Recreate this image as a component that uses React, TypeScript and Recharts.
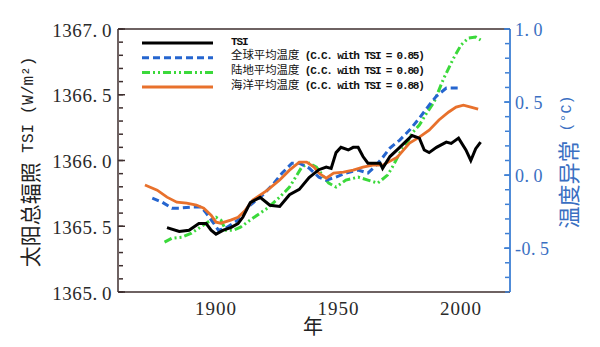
import React from 'react';
import { LineChart, Line, XAxis, YAxis, Customized } from 'recharts';

// ---- axis ticks ----
const xTicks = [1860, 1870, 1880, 1890, 1900, 1910, 1920, 1930, 1940, 1950, 1960, 1970, 1980, 1990, 2000, 2010, 2020];
const xLabelTicks = [1900, 1950, 2000];
const tsiTicks = [1365.0, 1365.1, 1365.2, 1365.3, 1365.4, 1365.5, 1365.6, 1365.7, 1365.8, 1365.9, 1366.0, 1366.1, 1366.2, 1366.3, 1366.4, 1366.5, 1366.6, 1366.7, 1366.8, 1366.9, 1367.0];
const tsiLabelTicks = [1365.0, 1365.5, 1366.0, 1366.5, 1367.0];
const tempTicks = [-0.8, -0.7, -0.6, -0.5, -0.4, -0.3, -0.2, -0.1, 0.0, 0.1, 0.2, 0.3, 0.4, 0.5, 0.6, 0.7, 0.8, 0.9, 1.0];
const tempLabelTicks = [-0.5, 0.0, 0.5, 1.0];

// ---- series ----
const tsiYears = [1880, 1885, 1889, 1893, 1896, 1898, 1900, 1903, 1906, 1909, 1911, 1914, 1918, 1922, 1926, 1930, 1934, 1938, 1942, 1945, 1947, 1949, 1951, 1954, 1956, 1958, 1960, 1962, 1964, 1967, 1968, 1971, 1975, 1980, 1983, 1985, 1987, 1990, 1994, 1996, 1999, 2002, 2004, 2006, 2008];
const tsiValues = [1365.49, 1365.46, 1365.47, 1365.52, 1365.52, 1365.47, 1365.44, 1365.47, 1365.49, 1365.52, 1365.57, 1365.68, 1365.72, 1365.66, 1365.65, 1365.74, 1365.78, 1365.87, 1365.93, 1365.95, 1365.94, 1366.06, 1366.10, 1366.08, 1366.10, 1366.10, 1366.03, 1365.98, 1365.98, 1365.98, 1365.94, 1366.03, 1366.10, 1366.19, 1366.17, 1366.08, 1366.06, 1366.10, 1366.14, 1366.13, 1366.17, 1366.08, 1366.00, 1366.09, 1366.14];

const globalYears = [1874, 1878, 1882, 1885, 1890, 1894, 1896, 1899, 1901, 1904, 1909, 1914, 1919, 1923, 1927, 1931, 1934, 1938, 1942, 1945, 1949, 1953, 1958, 1962, 1965, 1968, 1971, 1975, 1979, 1983, 1987, 1990, 1994, 2000];
const globalValues = [-0.158, -0.185, -0.226, -0.226, -0.219, -0.219, -0.26, -0.329, -0.377, -0.363, -0.308, -0.205, -0.137, -0.068, 0.014, 0.082, 0.082, 0.048, -0.014, -0.034, -0.014, 0.014, 0.034, 0.014, 0.06, 0.12, 0.185, 0.24, 0.308, 0.39, 0.479, 0.541, 0.596, 0.596];

const landYears = [1879, 1882, 1886, 1890, 1893, 1896, 1898, 1900, 1902, 1904, 1907, 1910, 1915, 1921, 1926, 1930, 1933, 1935, 1938, 1941, 1944, 1946, 1949, 1953, 1958, 1962, 1966, 1970, 1972, 1975, 1978, 1980, 1983, 1986, 1989, 1993, 1997, 2000, 2003, 2006, 2008];
const landValues = [-0.459, -0.432, -0.425, -0.397, -0.363, -0.329, -0.308, -0.288, -0.308, -0.377, -0.377, -0.356, -0.295, -0.226, -0.151, -0.082, 0.0, 0.055, 0.082, 0.055, -0.014, -0.055, -0.082, -0.034, -0.014, -0.034, -0.055, 0.0, 0.055, 0.151, 0.219, 0.288, 0.342, 0.425, 0.5, 0.664, 0.801, 0.89, 0.938, 0.945, 0.925];

const oceanYears = [1871, 1876, 1880, 1884, 1888, 1892, 1895, 1898, 1900, 1902, 1906, 1909, 1912, 1915, 1921, 1926, 1930, 1934, 1937, 1940, 1942, 1945, 1948, 1952, 1956, 1960, 1964, 1968, 1974, 1979, 1983, 1987, 1991, 1995, 1998, 2001, 2004, 2007];
const oceanValues = [-0.068, -0.103, -0.151, -0.185, -0.192, -0.205, -0.226, -0.274, -0.322, -0.329, -0.308, -0.288, -0.24, -0.171, -0.103, -0.034, 0.034, 0.089, 0.089, 0.055, 0.014, -0.021, 0.014, 0.021, 0.034, 0.055, 0.068, 0.068, 0.123, 0.219, 0.26, 0.308, 0.377, 0.432, 0.466, 0.479, 0.466, 0.452];

const seriesNames = ['TSI', '全球平均温度', '陆地平均温度', '海洋平均温度'];
const seriesNotes = ['', ' (C.C. with TSI = 0.85)', ' (C.C. with TSI = 0.80)', ' (C.C. with TSI = 0.88)'];

const zip = (xs: number[], vs: number[]) => xs.map((year, i) => ({ year, v: vs[i] }));
const tsiData = zip(tsiYears, tsiValues);
const globalData = zip(globalYears, globalValues);
const landData = zip(landYears, landValues);
const oceanData = zip(oceanYears, oceanValues);

// ---- domains ----
const X_DOMAIN: [number, number] = [1860, 2020];
const TSI_DOMAIN: [number, number] = [1365, 1367];
const T_DOMAIN: [number, number] = [-0.8, 1.0];

// ---- styles ----
const FRAME = '#3e2e2e';
const BLUE_AXIS = '#3d7fd4';
const BLUE_TEXT = '#3a6fc2';
const C_TSI = '#000000';
const C_GLOBAL = '#2565cf';
const C_LAND = '#3bd93b';
const C_OCEAN = '#e8712c';
const DASH_GLOBAL = '7 4';
const DASH_LAND = '8 3 2 3 2 3';
const NUM_FONT = "'Liberation Serif', 'DejaVu Serif', serif";
const CJK_FONT = "'Noto Sans CJK SC', 'Noto Sans', sans-serif";
const MONO_FONT = "'Liberation Mono', 'DejaVu Sans Mono', monospace";

const splitNum = (v: number) => {
  const s = v.toFixed(1);
  const i = s.indexOf('.');
  return [s.slice(0, i + 1), s.slice(i + 1)];
};

const LeftTick = (props: any) => {
  const x = Number(props.x);
  const y = Number(props.y);
  const v = Number(props.payload.value);
  const [a, b] = splitNum(v);
  return (
    <text x={x} y={y + 7.5} textAnchor="end" fontFamily={NUM_FONT} fontSize={19} fill="#2a2a2a" stroke="none" letterSpacing={0.6}>
      {a}
      <tspan dx={4}>{b}</tspan>
    </text>
  );
};

const RightTick = (props: any) => {
  const x = Number(props.x);
  const y = Number(props.y);
  const v = Number(props.payload.value);
  const [a, b] = splitNum(v);
  return (
    <text x={x} y={y + 7} textAnchor="start" fontFamily={NUM_FONT} fontSize={18} fill={BLUE_TEXT} stroke="none" letterSpacing={0.5}>
      {a}
      <tspan dx={4}>{b}</tspan>
    </text>
  );
};

const BottomTick = (props: any) => {
  const x = Number(props.x);
  const y = Number(props.y);
  const v = Number(props.payload.value);
  return (
    <text x={x} y={y + 13} textAnchor="middle" fontFamily={NUM_FONT} fontSize={19} fill="#2a2a2a" stroke="none" letterSpacing={1}>
      {String(v)}
    </text>
  );
};

const NoLabel = () => <g />;

const legendStyles = [
  { stroke: C_TSI, dash: undefined as string | undefined },
  { stroke: C_GLOBAL, dash: DASH_GLOBAL },
  { stroke: C_LAND, dash: DASH_LAND },
  { stroke: C_OCEAN, dash: undefined as string | undefined },
];

const Overlay = () => (
  <g>
    {seriesNames.map((name, i) => {
      const ly = 43 + i * 14.7;
      const st = legendStyles[i];
      return (
        <g key={name}>
          <line x1={142} x2={213} y1={ly} y2={ly} stroke={st.stroke} strokeWidth={3} strokeDasharray={st.dash} />
          <text x={231} y={ly + 1.5} fill="#111" style={{ whiteSpace: 'pre' }}>
            {i === 0 ? (
              <tspan fontFamily={MONO_FONT} fontSize={11} letterSpacing={-1.1} fontWeight="bold">{name}</tspan>
            ) : (
              <>
                <tspan fontFamily={CJK_FONT} fontSize={11.4}>{name}</tspan>
                <tspan fontFamily={MONO_FONT} fontSize={11} letterSpacing={-1.2} fontWeight="bold">{seriesNotes[i]}</tspan>
              </>
            )}
          </text>
        </g>
      );
    })}
    <text x={29} y={162} transform="rotate(-90 29 162)" textAnchor="middle" dominantBaseline="central" fill="#222" style={{ whiteSpace: 'pre' }}>
      <tspan fontFamily={CJK_FONT} fontSize={21}>太阳总辐照</tspan>
      <tspan fontFamily={MONO_FONT} fontSize={16}> TSI (W/m²)</tspan>
    </text>
    <text x={567} y={162} transform="rotate(-90 567 162)" textAnchor="middle" dominantBaseline="central" fill={BLUE_TEXT} style={{ whiteSpace: 'pre' }}>
      <tspan fontFamily={CJK_FONT} fontSize={22}>温度异常</tspan>
      <tspan fontFamily={MONO_FONT} fontSize={15}> (°C)</tspan>
    </text>
    <text x={313} y={334} textAnchor="middle" fontFamily={CJK_FONT} fontSize={20} fill="#222">年</text>
  </g>
);

const frameTick = { stroke: FRAME, strokeWidth: 1.5 };
const blueTick = { stroke: BLUE_AXIS, strokeWidth: 1.5 };

export default function App() {
  return (
    <div style={{ position: 'absolute', left: 0, top: 0, width: 600, height: 347, background: '#fff' }}>
      <LineChart width={600} height={347} margin={{ top: 29, right: 8, bottom: 15, left: 8 }}>
        {/* labelled axes */}
        <XAxis xAxisId="b" dataKey="year" type="number" domain={X_DOMAIN} ticks={xLabelTicks} interval={0} allowDataOverflow
          height={40} tickSize={0} tickMargin={10} tickLine={false} axisLine={{ stroke: FRAME, strokeWidth: 1.5 }} tick={BottomTick} />
        <YAxis yAxisId="tsi" orientation="left" type="number" domain={TSI_DOMAIN} ticks={tsiLabelTicks} interval={0} allowDataOverflow
          width={110} tickSize={0} tickMargin={6} tickLine={false} axisLine={{ stroke: FRAME, strokeWidth: 1.5 }} tick={LeftTick} />
        <YAxis yAxisId="temp" orientation="right" type="number" domain={T_DOMAIN} ticks={tempLabelTicks} interval={0} allowDataOverflow
          width={82} tickSize={0} tickMargin={5} tickLine={false} axisLine={{ stroke: BLUE_AXIS, strokeWidth: 1.8 }} tick={RightTick} />

        {/* inward tick marks: mirrored axes (no space taken) */}
        <XAxis xAxisId="bMaj" orientation="bottom" mirror height={1} type="number" domain={X_DOMAIN} ticks={xLabelTicks} interval={0} allowDataOverflow
          tickSize={7} tickMargin={0} tick={NoLabel} tickLine={frameTick} axisLine={false} />
        <XAxis xAxisId="bMin" orientation="bottom" mirror height={1} type="number" domain={X_DOMAIN} ticks={xTicks} interval={0} allowDataOverflow
          tickSize={4} tickMargin={0} tick={NoLabel} tickLine={frameTick} axisLine={false} />
        <XAxis xAxisId="tMaj" orientation="top" mirror height={1} type="number" domain={X_DOMAIN} ticks={xLabelTicks} interval={0} allowDataOverflow
          tickSize={7} tickMargin={0} tick={NoLabel} tickLine={frameTick} axisLine={{ stroke: FRAME, strokeWidth: 1.5 }} />
        <XAxis xAxisId="tMin" orientation="top" mirror height={1} type="number" domain={X_DOMAIN} ticks={xTicks} interval={0} allowDataOverflow
          tickSize={4} tickMargin={0} tick={NoLabel} tickLine={frameTick} axisLine={false} />
        <YAxis yAxisId="lMaj" orientation="left" mirror width={1} type="number" domain={TSI_DOMAIN} ticks={tsiLabelTicks} interval={0} allowDataOverflow
          tickSize={7} tickMargin={0} tick={NoLabel} tickLine={frameTick} axisLine={false} />
        <YAxis yAxisId="lMin" orientation="left" mirror width={1} type="number" domain={TSI_DOMAIN} ticks={tsiTicks} interval={0} allowDataOverflow
          tickSize={4} tickMargin={0} tick={NoLabel} tickLine={frameTick} axisLine={false} />
        <YAxis yAxisId="rMaj" orientation="right" mirror width={1} type="number" domain={T_DOMAIN} ticks={tempLabelTicks} interval={0} allowDataOverflow
          tickSize={6} tickMargin={0} tick={NoLabel} tickLine={blueTick} axisLine={false} />
        <YAxis yAxisId="rMin" orientation="right" mirror width={1} type="number" domain={T_DOMAIN} ticks={tempTicks} interval={0} allowDataOverflow
          tickSize={4} tickMargin={0} tick={NoLabel} tickLine={blueTick} axisLine={false} />

        <Line xAxisId="b" yAxisId="temp" data={landData} dataKey="v" type="linear" stroke={C_LAND} strokeWidth={3} strokeDasharray={DASH_LAND} dot={false} isAnimationActive={false} />
        <Line xAxisId="b" yAxisId="temp" data={globalData} dataKey="v" type="linear" stroke={C_GLOBAL} strokeWidth={3} strokeDasharray={DASH_GLOBAL} dot={false} isAnimationActive={false} />
        <Line xAxisId="b" yAxisId="temp" data={oceanData} dataKey="v" type="linear" stroke={C_OCEAN} strokeWidth={2.8} dot={false} isAnimationActive={false} />
        <Line xAxisId="b" yAxisId="tsi" data={tsiData} dataKey="v" type="linear" stroke={C_TSI} strokeWidth={3} dot={false} isAnimationActive={false} />
        <Customized component={Overlay} />
      </LineChart>
    </div>
  );
}
